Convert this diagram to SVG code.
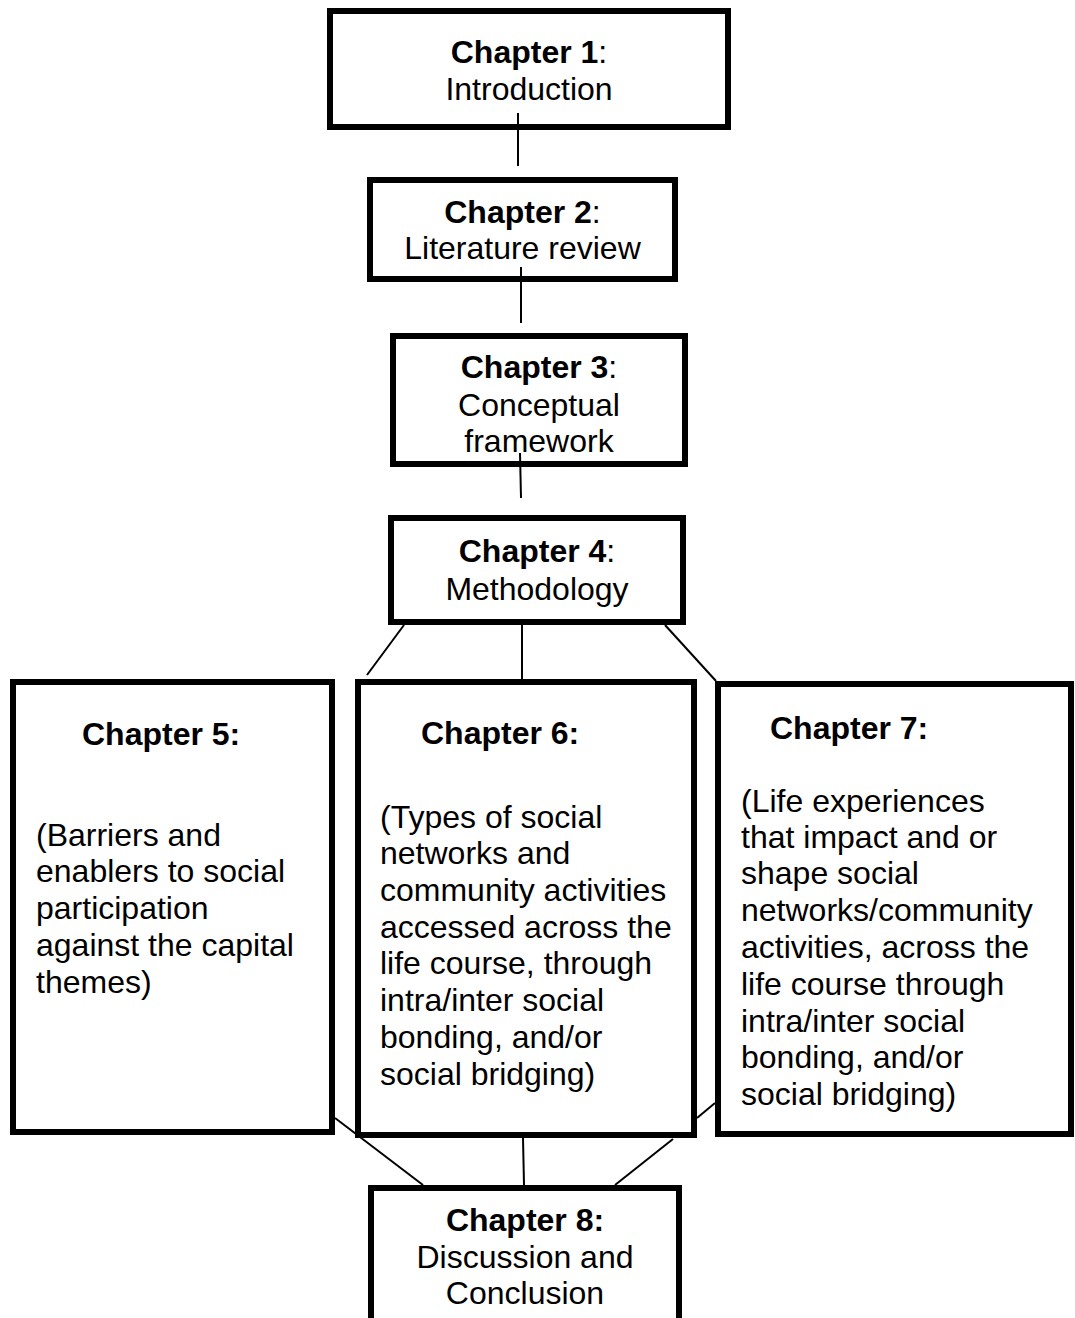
<svg xmlns="http://www.w3.org/2000/svg" width="1075" height="1318" viewBox="0 0 1075 1318">
<style>
.box{fill:#fff;stroke:#000;stroke-width:6}
text{font-family:"Liberation Sans",Arial,sans-serif;font-size:32px;fill:#000}
.c{text-anchor:middle}
.b{font-weight:bold}
.ln{stroke:#000;stroke-width:2;fill:none}
</style>
<rect width="1075" height="1318" fill="#fff"/>
<g id="ch1">
<rect class="box" x="330" y="11" width="398" height="116"/>
<text class="c" x="529" y="63"><tspan class="b">Chapter 1</tspan>:</text>
<text class="c" x="529" y="100">Introduction</text>
</g>
<g id="ch2">
<rect class="box" x="370" y="180" width="305" height="99"/>
<text class="c" x="522.5" y="223"><tspan class="b">Chapter 2</tspan>:</text>
<text class="c" x="522.5" y="259">Literature review</text>
</g>
<g id="ch3">
<rect class="box" x="393" y="336" width="292" height="128"/>
<text class="c" x="539" y="378"><tspan class="b">Chapter 3</tspan>:</text>
<text class="c" x="539" y="416">Conceptual</text>
<text class="c" x="539" y="452">framework</text>
</g>
<g id="ch4">
<rect class="box" x="391" y="518" width="292" height="104"/>
<text class="c" x="537" y="562"><tspan class="b">Chapter 4</tspan>:</text>
<text class="c" x="537" y="600">Methodology</text>
</g>
<g id="ch5">
<rect class="box" x="13" y="682" width="319" height="450"/>
<text class="b" x="82" y="745">Chapter 5:</text>
<text x="36" y="846">(Barriers and</text>
<text x="36" y="882">enablers to social</text>
<text x="36" y="919">participation</text>
<text x="36" y="956">against the capital</text>
<text x="36" y="993">themes)</text>
</g>
<g id="ch6">
<rect class="box" x="358" y="682" width="336" height="453"/>
<text class="b" x="421" y="744">Chapter 6:</text>
<text x="380" y="828">(Types of social</text>
<text x="380" y="864">networks and</text>
<text x="380" y="901">community activities</text>
<text x="380" y="938">accessed across the</text>
<text x="380" y="974">life course, through</text>
<text x="380" y="1011">intra/inter social</text>
<text x="380" y="1048">bonding, and/or</text>
<text x="380" y="1085">social bridging)</text>
</g>
<g id="ch7">
<rect class="box" x="718" y="684" width="353" height="450"/>
<text class="b" x="770" y="739">Chapter 7:</text>
<text x="741" y="812">(Life experiences</text>
<text x="741" y="848">that impact and or</text>
<text x="741" y="884">shape social</text>
<text x="741" y="921">networks/community</text>
<text x="741" y="958">activities, across the</text>
<text x="741" y="995">life course through</text>
<text x="741" y="1032">intra/inter social</text>
<text x="741" y="1068">bonding, and/or</text>
<text x="741" y="1105">social bridging)</text>
</g>
<g id="ch8">
<rect class="box" x="371" y="1188" width="308" height="200"/>
<text class="c b" x="525" y="1231">Chapter 8:</text>
<text class="c" x="525" y="1268">Discussion and</text>
<text class="c" x="525" y="1304">Conclusion</text>
</g>
<g id="connectors">
<line class="ln" x1="518" y1="113" x2="518" y2="166"/>
<line class="ln" x1="521" y1="267" x2="521" y2="323"/>
<line class="ln" x1="520" y1="453" x2="521" y2="498"/>
<line class="ln" x1="404" y1="625" x2="367" y2="675"/>
<line class="ln" x1="522" y1="625" x2="522" y2="679"/>
<line class="ln" x1="665" y1="625" x2="716" y2="681"/>
<line class="ln" x1="335" y1="1118" x2="423" y2="1185"/>
<line class="ln" x1="523" y1="1138" x2="524" y2="1185"/>
<line class="ln" x1="715" y1="1103" x2="697" y2="1118"/>
<line class="ln" x1="673" y1="1139" x2="615" y2="1185"/>
</g>
</svg>
